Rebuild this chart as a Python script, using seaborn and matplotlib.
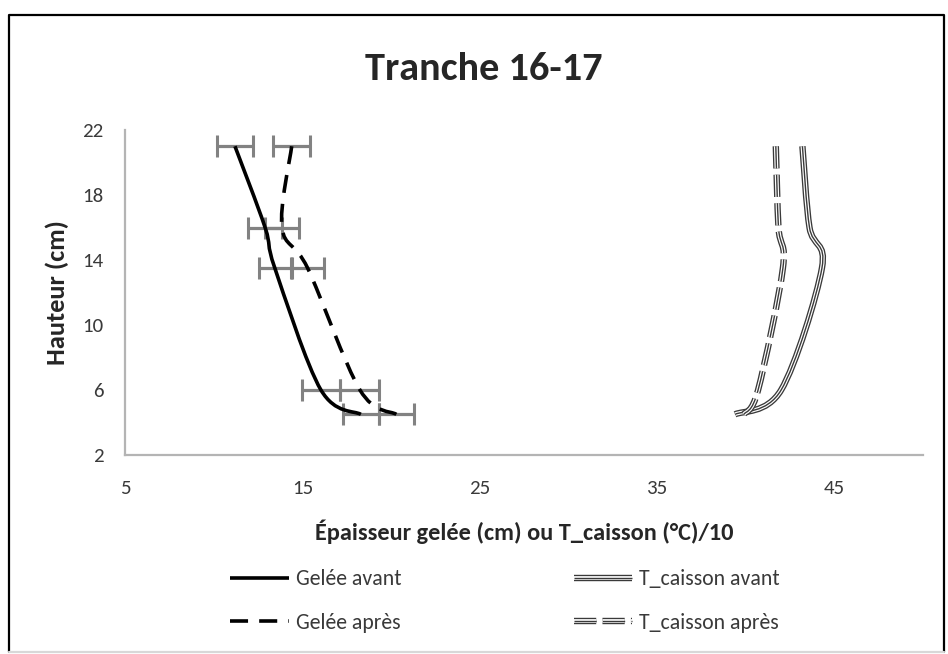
import numpy as np
import pandas as pd
import matplotlib
matplotlib.use("Agg")
import matplotlib.pyplot as plt
from matplotlib.path import Path
from matplotlib.patches import PathPatch
from matplotlib.lines import Line2D
import matplotlib.patheffects as pe
from matplotlib import font_manager as fm
import seaborn as sns

# Measured profiles (height in cm)
heights = [21, 16, 13.5, 6, 4.5]
gelee_avant = [11.2, 12.9, 13.45, 16.05, 18.3]
gelee_apres = [14.4, 13.85, 15.3, 18.25, 20.3]
err_avant = [1.0, 0.95, 0.9, 1.05, 1.0]
err_apres = [1.05, 0.95, 0.9, 1.1, 1.0]
t_caisson_avant = [43.2, 43.6, 44.3, 42.0, 39.4]
t_caisson_apres = [41.7, 41.85, 42.1, 40.7, 39.9]

x_ticks = [5, 15, 25, 35, 45]
y_ticks = [2, 6, 10, 14, 18, 22]

title = "Tranche 16-17"
x_label = "Épaisseur gelée (cm) ou T_caisson (°C)/10"
y_label = "Hauteur (cm)"
labels = ["Gelée avant", "Gelée après", "T_caisson avant", "T_caisson après"]

df = pd.DataFrame({
    "hauteur": heights * 4,
    "valeur": gelee_avant + gelee_apres + t_caisson_avant + t_caisson_apres,
    "serie": sum([[lab] * len(heights) for lab in labels], []),
})

sns.set_style("white")


def pick_font(names):
    for n in names:
        try:
            fm.findfont(fm.FontProperties(family=n), fallback_to_default=False)
            return n
        except ValueError:
            continue
    return "DejaVu Sans"


font = pick_font(["Carlito", "Liberation Sans Narrow", "Open Sans", "Liberation Sans"])
plt.rcParams["font.family"] = [font, "DejaVu Sans"]
plt.rcParams["lines.scale_dashes"] = False

W, H = 948, 654
fig = plt.figure(figsize=(W / 100, H / 100), dpi=100)
ax = fig.add_axes([125 / W, 1 - 455 / H, (923 - 125) / W, (455 - 130) / H])


def smooth_path(xs, ys):
    """Cubic Bezier path through the points (Catmull-Rom tangents)."""
    pts = np.column_stack([xs, ys]).astype(float)
    n = len(pts)
    verts = [pts[0]]
    codes = [Path.MOVETO]
    for i in range(n - 1):
        p0 = pts[i - 1] if i > 0 else pts[i]
        p1, p2 = pts[i], pts[i + 1]
        p3 = pts[i + 2] if i + 2 < n else pts[i + 1]
        verts += [p1 + (p2 - p0) / 6, p2 - (p3 - p1) / 6, p2]
        codes += [Path.CURVE4] * 3
    return Path(verts, codes)


err_color = "#828282"
for xs, errs in ((gelee_avant, err_avant), (gelee_apres, err_apres)):
    ax.errorbar(xs, heights, xerr=errs, fmt="none", ecolor=err_color,
                elinewidth=2.3, capsize=8, capthick=2.2, zorder=2)

dash_g = (0, (13, 8))
dash_t = (0, (16, 4.5))
triple = [pe.Stroke(linewidth=4.6, foreground="#3a3a3a"),
          pe.Stroke(linewidth=2.7, foreground="white"),
          pe.Normal()]

styles = {
    "Gelée avant": dict(color="black", lw=2.6, ls="-", effects=None),
    "Gelée après": dict(color="black", lw=2.6, ls=dash_g, effects=None),
    "T_caisson avant": dict(color="#3a3a3a", lw=1.0, ls="-", effects=triple),
    "T_caisson après": dict(color="#3a3a3a", lw=1.0, ls=dash_t, effects=triple),
}

handles = []
for lab in labels:
    sub = df[df["serie"] == lab]
    st = styles[lab]
    patch = PathPatch(smooth_path(sub["valeur"].values, sub["hauteur"].values),
                      fill=False, edgecolor=st["color"], linewidth=st["lw"],
                      linestyle=st["ls"], capstyle="butt", joinstyle="round",
                      zorder=3)
    if st["effects"]:
        patch.set_path_effects(st["effects"])
    ax.add_patch(patch)
    h = Line2D([], [], color=st["color"], lw=st["lw"], linestyle=st["ls"],
               solid_capstyle="butt", dash_capstyle="butt")
    if st["effects"]:
        h.set_path_effects(st["effects"])
    handles.append(h)

ax.set_xlim(5, 50)
ax.set_ylim(2, 22)
ax.set_xticks(x_ticks)
ax.set_yticks(y_ticks)
sns.despine(ax=ax)
for side in ("left", "bottom"):
    ax.spines[side].set_color("#b4b4b4")
    ax.spines[side].set_linewidth(1.6)
ax.tick_params(axis="both", direction="out", length=4.3, width=1.4, color="#b4b4b4",
               labelsize=15, labelcolor="#3a3a3a")
ax.tick_params(axis="y", pad=11)
ax.tick_params(axis="x", pad=14)

ax.set_xlabel(x_label, fontsize=17.5, fontweight="bold", labelpad=16)
ax.set_ylabel(y_label, fontsize=19, fontweight="bold", labelpad=10)
fig.text(484 / W, 1 - 69 / H, title, fontsize=29, fontweight="bold",
         ha="center", va="center")

leg = fig.legend(handles, labels, ncol=2, loc="center",
                 bbox_to_anchor=(505 / W, 1 - 601 / H),
                 frameon=False, fontsize=15.7, handlelength=2.7, handletextpad=0.3,
                 columnspacing=7.9, labelspacing=1.07)
for t in leg.get_texts():
    t.set_color("#3a3a3a")

# chart area border
fig.add_artist(Line2D([9 / W, 9 / W, 944 / W, 944 / W],
                      [1 - 652 / H, 1 - 15 / H, 1 - 15 / H, 1 - 652 / H],
                      transform=fig.transFigure, color="black", lw=1.6))
fig.add_artist(Line2D([9 / W, 944 / W], [1 - 652 / H, 1 - 652 / H],
                      transform=fig.transFigure, color="#d8d8d8", lw=1.6))

fig.savefig("out.png", dpi=100, facecolor="white")
